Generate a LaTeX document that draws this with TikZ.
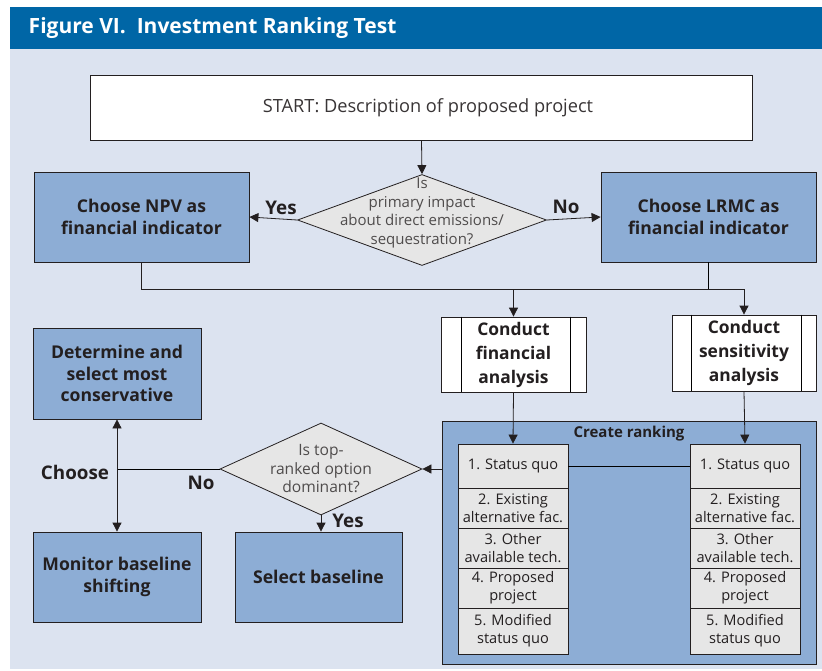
\documentclass[tikz,border=0pt]{standalone}
\usepackage{fontspec}
\setmainfont{Open Sans}
\usetikzlibrary{arrows.meta,shapes.geometric}
\definecolor{bar blue}{RGB}{0,102,166}
\definecolor{pale blue}{RGB}{220,227,240}
\definecolor{box blue}{RGB}{141,173,213}
\definecolor{dec gray}{RGB}{230,230,230}
\definecolor{ink}{RGB}{35,31,32}
\tikzset{
	flowbox/.style={draw=ink, fill=box blue, text=ink, align=center, inner sep=0pt,
		font=\bfseries\fontsize{17.6}{21.3}\selectfont},
	procbox/.style={draw=ink, fill=white, text=ink, align=center, inner sep=0pt,
		font=\bfseries\fontsize{17.4}{24}\selectfont},
	decision/.style={diamond, draw=ink, fill=dec gray, inner sep=0pt},
	dectext/.style={text=ink!80, align=center, font=\fontsize{15.6}{18.5}\selectfont},
	cell/.style={draw=ink, fill=dec gray, text=ink, align=center, inner sep=0pt,
		minimum width=110pt, font=\fontsize{14.6}{18}\selectfont},
	tag/.style={text=ink, font=\bfseries\fontsize{18.8}{20}\selectfont},
	flow/.style={draw=ink, -{Triangle[length=9pt,width=9pt]}}
}
\begin{document}
\begin{tikzpicture}[x=1pt, y=-1pt, line width=0.8pt]
		\useasboundingbox (0,0) rectangle (822,671);
		% background and title
		\fill[pale blue] (10,48) rectangle (822,669);
		\fill[bar blue] (10,7) rectangle (822,49);
		\node[anchor=west, text=white, font=\bfseries\fontsize{21}{24}\selectfont] (title)
			at (25,28) {Figure VI.\ \ Investment Ranking Test};
		% top part
		\node[draw=ink, fill=white, text=ink!90, minimum width=662pt, minimum height=65pt,
			font=\fontsize{18.2}{20}\selectfont] (start) at (421,107.5)
			{\hspace*{14pt}START: Description of proposed project};
		\node[decision, minimum width=249pt, minimum height=91pt] (impact) at (422,220) {};
		\node[dectext, font=\fontsize{15}{18.5}\selectfont] (impacttext) at (422,213)
			{Is\\primary impact\\about direct emissions/\\sequestration?};
		\node[flowbox, minimum width=215pt, minimum height=90pt] (npv) at (141.5,217)
			{Choose NPV as\\financial indicator};
		\node[flowbox, minimum width=215pt, minimum height=90pt] (lrmc) at (708.5,217)
			{Choose LRMC as\\financial indicator};
		\draw[flow] (start) -- (impact.north);
		\draw[flow] (impact.west) -- (npv.east);
		\draw[flow] (impact.east) -- (lrmc.west);
		\node[tag] (yes1) at (281,208) {Yes};
		\node[tag] (no1) at (566,207) {No};
		% analysis boxes
		\node[procbox, minimum width=145pt, minimum height=75pt] (fin) at (513.5,354.5)
			{Conduct\\financial\\analysis};
		\node[procbox, minimum width=144pt, minimum height=76pt] (sens) at (744,353)
			{Conduct\\sensitivity\\analysis};
		\draw ([xshift=21pt]fin.north west) -- ([xshift=21pt]fin.south west)
			([xshift=-16pt]fin.north east) -- ([xshift=-16pt]fin.south east)
			([xshift=20pt]sens.north west) -- ([xshift=20pt]sens.south west)
			([xshift=-15pt]sens.north east) -- ([xshift=-15pt]sens.south east);
		\coordinate (bus) at (0,289);
		\draw[flow] (npv.south) |- (bus -| sens.north) -- (sens.north);
		\draw (lrmc.south) -- (lrmc.south |- bus);
		\draw[flow] (fin.north |- bus) -- (fin.north);
		% part for ranking
		\node[draw=ink, fill=box blue, minimum width=374pt, minimum height=243pt]
			(rank) at (629,542.5) {};
		\node[tag, font=\bfseries\fontsize{15}{16}\selectfont] (ranktext) at (629,434)
			{Create ranking};
		\foreach \col/\cx in {L/513,R/745} {
			\node[cell, minimum height=44pt] (\col1) at (\cx,466) {1. Status quo};
			\node[cell, minimum height=40pt] (\col2) at (\cx,508) {2. Existing\\alternative fac.};
			\node[cell, minimum height=40pt] (\col3) at (\cx,548) {3. Other\\available tech.};
			\node[cell, minimum height=40pt] (\col4) at (\cx,588) {4. Proposed\\project};
			\node[cell, minimum height=46pt] (\col5) at (\cx,631) {5. Modified\\status quo};
		}
		\draw (L1.east) -- (R1.west);
		\draw[flow] (fin.south) -- (L1.north);
		\draw[flow] (sens.south) -- (R1.north);
		% bottom left part
		\node[decision, minimum width=202pt, minimum height=92pt] (dominant) at (321,469) {};
		\node[dectext] (dominanttext) at (321,469) {Is top-\\ranked option\\dominant?};
		\node[flowbox, minimum width=168pt, minimum height=91pt] (determine) at (117,373.5)
			{Determine and\\select most\\conservative};
		\node[flowbox, minimum width=168pt, minimum height=90pt] (monitor) at (117,577)
			{Monitor baseline\\shifting};
		\node[flowbox, minimum width=167pt, minimum height=90pt] (select) at (318.5,577)
			{Select baseline};
		\draw[flow] (rank.west |- dominant.east) -- (dominant.east);
		\draw[flow] (dominant.south) -- (dominant.south |- select.north);
		\coordinate (choice) at (monitor.north |- dominant.west);
		\draw (dominant.west) -- (choice);
		\draw[flow] (choice) -- (determine.south);
		\draw[flow] (choice) -- (monitor.north);
		\node[tag] (choose) at (75,472) {Choose};
		\node[tag] (no2) at (201,483) {No};
		\node[tag] (yes2) at (348,521) {Yes};
	\end{tikzpicture}
\end{document}
